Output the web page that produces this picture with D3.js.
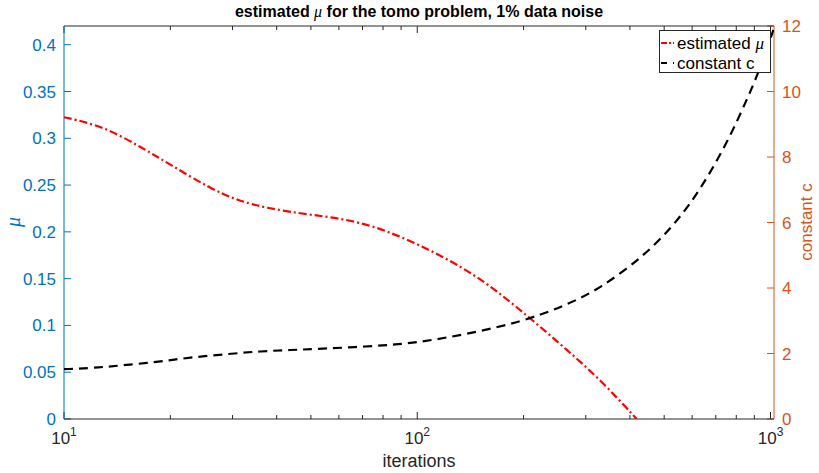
<!DOCTYPE html>
<html>
<head>
<meta charset="utf-8">
<script src="https://cdn.jsdelivr.net/npm/d3@7"></script>
<style>
  body { margin: 0; background: #fff; }
  svg { display: block; font-family: "Liberation Sans", Arial, sans-serif; }
</style>
</head>
<body>
<svg id="chart" width="819" height="473"></svg>
<script>
// estimated mu (left axis)
const muIter = [10, 12.9, 16.8, 20, 25.9, 30.8, 37.5, 49.7, 68.9, 97.3, 138, 171, 213, 265, 330, 418];
const muVals = [0.3225, 0.3131, 0.289, 0.2718, 0.2466, 0.2338, 0.2252, 0.2182, 0.2118, 0.190, 0.160, 0.1346, 0.105, 0.074, 0.042, 0.0];

// constant c (right axis)
const cIter = [10, 12.1, 14.4, 18.3, 22.7, 28.9, 35.9, 44.6, 49.7, 71.9, 97.8, 138, 198, 265, 330, 436, 520, 592, 674, 768, 856, 924, 1019];
const cVals = [1.52, 1.56, 1.63, 1.74, 1.88, 1.98, 2.07, 2.11, 2.13, 2.21, 2.31, 2.59, 2.97, 3.48, 3.99, 4.96, 5.8, 6.56, 7.5, 8.62, 9.74, 10.56, 11.88];

const muTicks = [0, 0.05, 0.1, 0.15, 0.2, 0.25, 0.3, 0.35, 0.4];
const cTicks = [0, 2, 4, 6, 8, 10, 12];
const xMajor = [10, 100, 1000];

const blue = "#0072BD", orange = "#D95319", axisGray = "#262626";
const pLeft = 64, pRight = 774, pTop = 26, pBottom = 419;

const svg = d3.select("#chart");

const x = d3.scaleLog().domain([10, 1023]).range([pLeft, pRight]);
const yMu = d3.scaleLinear().domain([0, 0.42]).range([pBottom, pTop]);
const yC = d3.scaleLinear().domain([0, 12]).range([pBottom, pTop]);

// minor log ticks
const xMinor = [];
[10, 100].forEach(dec => { for (let k = 2; k <= 9; k++) xMinor.push(dec * k); });

// x ticks, bottom and top, drawn inward
const tickG = svg.append("g");
xMinor.forEach(v => {
  tickG.append("line").attr("x1", x(v)).attr("x2", x(v)).attr("y1", pBottom).attr("y2", pBottom - 4).attr("stroke", axisGray);
  tickG.append("line").attr("x1", x(v)).attr("x2", x(v)).attr("y1", pTop).attr("y2", pTop + 4).attr("stroke", axisGray);
});
xMajor.forEach(v => {
  tickG.append("line").attr("x1", x(v)).attr("x2", x(v)).attr("y1", pBottom).attr("y2", pBottom - 7).attr("stroke", axisGray);
  tickG.append("line").attr("x1", x(v)).attr("x2", x(v)).attr("y1", pTop).attr("y2", pTop + 7).attr("stroke", axisGray);
});

// x tick labels 10^n
xMajor.forEach((v, i) => {
  const t = svg.append("text").attr("x", x(v)).attr("y", 444).attr("text-anchor", "middle")
    .attr("font-size", 17).attr("fill", axisGray);
  t.append("tspan").text("10");
  t.append("tspan").attr("font-size", 12).attr("dy", -8).text(String(i + 1));
});

// left ticks
muTicks.forEach(v => {
  svg.append("line").attr("x1", pLeft).attr("x2", pLeft + 7).attr("y1", yMu(v)).attr("y2", yMu(v)).attr("stroke", blue);
  svg.append("text").attr("x", pLeft - 8).attr("y", yMu(v) + 6).attr("text-anchor", "end")
    .attr("font-size", 17).attr("fill", blue).text(v);
});

// right ticks
cTicks.forEach(v => {
  svg.append("line").attr("x1", pRight).attr("x2", pRight - 7).attr("y1", yC(v)).attr("y2", yC(v)).attr("stroke", orange);
  svg.append("text").attr("x", pRight + 8).attr("y", yC(v) + 6).attr("text-anchor", "start")
    .attr("font-size", 17).attr("fill", orange).text(v);
});

// axis lines
svg.append("line").attr("x1", pLeft).attr("x2", pRight).attr("y1", pBottom).attr("y2", pBottom).attr("stroke", axisGray);
svg.append("line").attr("x1", pLeft).attr("x2", pRight).attr("y1", pTop).attr("y2", pTop).attr("stroke", axisGray);
svg.append("line").attr("x1", pLeft).attr("x2", pLeft).attr("y1", pTop).attr("y2", pBottom).attr("stroke", blue);
svg.append("line").attr("x1", pRight).attr("x2", pRight).attr("y1", pTop).attr("y2", pBottom).attr("stroke", orange);

// curves
svg.append("clipPath").attr("id", "plotclip").append("rect")
  .attr("x", pLeft).attr("y", pTop - 2).attr("width", pRight - pLeft).attr("height", pBottom - pTop + 2);

const muLine = d3.line().x(d => x(d[0])).y(d => yMu(d[1])).curve(d3.curveBasis);
const cLine = d3.line().x(d => x(d[0])).y(d => yC(d[1])).curve(d3.curveBasis);

svg.append("path").datum(d3.zip(muIter, muVals)).attr("d", muLine)
  .attr("fill", "none").attr("stroke", "#ff0000").attr("stroke-width", 2.2)
  .attr("stroke-dasharray", "8,3,2,3").attr("clip-path", "url(#plotclip)");

svg.append("path").datum(d3.zip(cIter, cVals)).attr("d", cLine)
  .attr("fill", "none").attr("stroke", "#000").attr("stroke-width", 2.2)
  .attr("stroke-dasharray", "9,6").attr("clip-path", "url(#plotclip)");

// labels
svg.append("text").attr("x", (pLeft + pRight) / 2).attr("y", 467).attr("text-anchor", "middle")
  .attr("font-size", 18).attr("fill", axisGray).text("iterations");

svg.append("text").attr("transform", "translate(20,222) rotate(-90)").attr("text-anchor", "middle")
  .attr("font-family", "'Liberation Serif', serif").attr("font-style", "italic")
  .attr("font-size", 20).attr("fill", blue).text("μ");

svg.append("text").attr("transform", "translate(812,222) rotate(-90)").attr("text-anchor", "middle")
  .attr("font-size", 17).attr("fill", orange).text("constant c");

const title = svg.append("text").attr("x", (pLeft + pRight) / 2).attr("y", 17).attr("text-anchor", "middle")
  .attr("font-size", 16).attr("font-weight", "bold").attr("fill", "#000");
title.append("tspan").text("estimated ");
title.append("tspan").attr("font-family", "'Liberation Serif', serif").attr("font-style", "italic").attr("font-weight", "normal").text("μ");
title.append("tspan").text(" for the tomo problem, 1% data noise");

// legend
const lg = svg.append("g");
lg.append("rect").attr("x", 659.5).attr("y", 30.5).attr("width", 111).attr("height", 42)
  .attr("fill", "#fff").attr("stroke", axisGray);
const legendItems = [
  { label: "estimated ", mu: true, color: "#ff0000", dash: "6,2,2,2" },
  { label: "constant c", mu: false, color: "#000", dash: "6,6" }
];
legendItems.forEach((d, i) => {
  const yy = 43 + i * 20;
  lg.append("line").attr("x1", 661).attr("x2", 674).attr("y1", yy).attr("y2", yy)
    .attr("stroke", d.color).attr("stroke-width", 2.2).attr("stroke-dasharray", d.dash);
  const t = lg.append("text").attr("x", 677).attr("y", yy + 6).attr("font-size", 17).attr("fill", "#000");
  t.append("tspan").text(d.label);
  if (d.mu) t.append("tspan").attr("font-family", "'Liberation Serif', serif").attr("font-style", "italic").text("μ");
});
</script>
</body>
</html>
